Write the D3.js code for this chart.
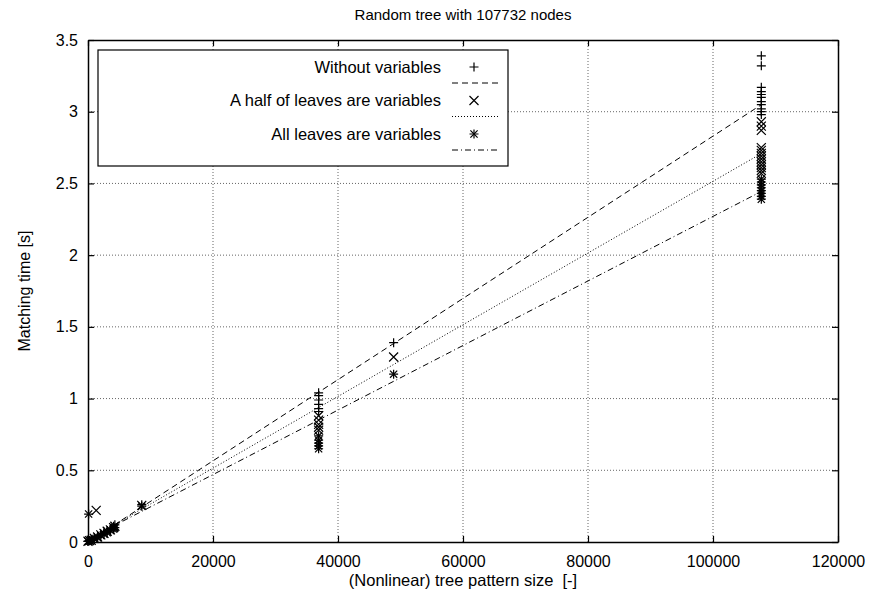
<!DOCTYPE html>
<html>
<head>
<meta charset="utf-8">
<script src="https://cdn.jsdelivr.net/npm/d3@7"></script>
<style>
  body { margin: 0; background: #fff; }
  svg text { font-family: "Liberation Sans", Arial, sans-serif; fill: #000; }
</style>
</head>
<body>
<div id="chart"></div>
<script>
// series data: [pattern size, matching time]
const seriesNames = ["Without variables", "A half of leaves are variables", "All leaves are variables"];

const withoutVars = [
    [0, 0.005], [128, 0.008], [256, 0.01], [512, 0.015], [768, 0.02], [1024, 0.03], [1536, 0.04],
    [2048, 0.055], [2560, 0.07], [3072, 0.08], [3584, 0.095], [4096, 0.11], [4300, 0.12],
    [8600, 0.26],
    [36900, 1.04], [36900, 1.02], [36900, 0.99], [36900, 0.96], [36900, 0.93], [36900, 0.91],
    [48900, 1.39],
    [107732, 3.39], [107732, 3.32], [107732, 3.17], [107732, 3.14], [107732, 3.12], [107732, 3.10],
    [107732, 3.07], [107732, 3.05], [107732, 3.02], [107732, 3.00], [107732, 2.98]
];

const halfVars = [
    [0, 0.005], [256, 0.01], [512, 0.012], [1024, 0.025], [1310, 0.22], [1536, 0.035], [2048, 0.05],
    [2560, 0.06], [3072, 0.075], [3584, 0.085], [4096, 0.1], [4300, 0.11],
    [8600, 0.255],
    [36900, 0.88], [36900, 0.85], [36900, 0.82], [36900, 0.80], [36900, 0.78],
    [48900, 1.29],
    [107732, 2.93], [107732, 2.90], [107732, 2.87], [107732, 2.75], [107732, 2.73], [107732, 2.71],
    [107732, 2.69], [107732, 2.67], [107732, 2.65], [107732, 2.63], [107732, 2.61], [107732, 2.59], [107732, 2.57]
];

const allVars = [
    [0, 0.004], [100, 0.195], [256, 0.008], [512, 0.012], [1024, 0.02], [1536, 0.03], [2048, 0.045],
    [2560, 0.055], [3072, 0.065], [3584, 0.08], [4096, 0.09], [4300, 0.1],
    [8600, 0.25],
    [36900, 0.74], [36900, 0.71], [36900, 0.69], [36900, 0.67], [36900, 0.65],
    [48900, 1.17],
    [107732, 2.53], [107732, 2.51], [107732, 2.49], [107732, 2.47], [107732, 2.45], [107732, 2.43],
    [107732, 2.41], [107732, 2.39]
];

// fitted lines y = a*x + b
const fitSlopes = [2.83e-5, 2.50e-5, 2.25e-5];
const fitIntercepts = [0.0, 0.015, 0.02];
const fitRange = [0, 107732];

const xTicks = [0, 20000, 40000, 60000, 80000, 100000, 120000];
const yTicks = [0, 0.5, 1, 1.5, 2, 2.5, 3, 3.5];

const width = 873, height = 599;
const margin = {top: 40, right: 35, bottom: 57, left: 88};

const svg = d3.select("#chart").append("svg")
    .attr("width", width)
    .attr("height", height);

const x = d3.scaleLinear().domain([0, 120000]).range([margin.left, width - margin.right]);
const y = d3.scaleLinear().domain([0, 3.5]).range([height - margin.bottom, margin.top]);

const tickFont = 16;
const labelFont = 16.5;

// grid
svg.append("g")
    .selectAll("line")
    .data(xTicks.slice(1, -1))
    .enter().append("line")
    .attr("x1", d => x(d)).attr("x2", d => x(d))
    .attr("y1", y(0)).attr("y2", y(3.5))
    .attr("stroke", "#666").attr("stroke-dasharray", "1,2");

svg.append("g")
    .selectAll("line")
    .data(yTicks.slice(1, -1))
    .enter().append("line")
    .attr("x1", x(0)).attr("x2", x(120000))
    .attr("y1", d => y(d)).attr("y2", d => y(d))
    .attr("stroke", "#666").attr("stroke-dasharray", "1,2");

// axes (ticks inward on all four sides)
const bottomAxis = svg.append("g")
    .attr("transform", `translate(0,${y(0)})`)
    .call(d3.axisBottom(x).tickValues(xTicks).tickFormat(d3.format("d")).tickSizeInner(-6).tickSizeOuter(0).tickPadding(14));
const topAxis = svg.append("g")
    .attr("transform", `translate(0,${y(3.5)})`)
    .call(d3.axisTop(x).tickValues(xTicks).tickFormat("").tickSizeInner(-6).tickSizeOuter(0));
const leftAxis = svg.append("g")
    .attr("transform", `translate(${x(0)},0)`)
    .call(d3.axisLeft(y).tickValues(yTicks).tickFormat(d => d).tickSizeInner(-6).tickSizeOuter(0).tickPadding(10));
const rightAxis = svg.append("g")
    .attr("transform", `translate(${x(120000)},0)`)
    .call(d3.axisRight(y).tickValues(yTicks).tickFormat("").tickSizeInner(-6).tickSizeOuter(0));

[bottomAxis, topAxis, leftAxis, rightAxis].forEach(g => {
    g.select(".domain").attr("stroke", "#000").attr("stroke-width", 1.5);
    g.selectAll(".tick line").attr("stroke", "#000").attr("stroke-width", 1.2);
    g.selectAll("text").style("font-size", tickFont + "px")
        .style("font-family", '"Liberation Sans", Arial, sans-serif').attr("fill", "#000");
});

// fitted lines
const dashes = ["6,4", "1,2", "6,3,1,3"];
const lineGen = d3.line().x(d => x(d[0])).y(d => y(d[1]));
svg.append("g")
    .selectAll("path")
    .data(fitSlopes)
    .enter().append("path")
    .attr("d", (a, i) => lineGen(fitRange.map(v => [v, a * v + fitIntercepts[i]])))
    .attr("fill", "none")
    .attr("stroke", "#000")
    .attr("stroke-width", 1)
    .attr("stroke-dasharray", (d, i) => dashes[i]);

// point symbols like gnuplot's +, x, *
const r = 4.5;
function symbol(g, type) {
    if (type === 0 || type === 2) {
        g.append("path").attr("d", `M${-r},0H${r}M0,${-r}V${r}`);
    }
    if (type === 1 || type === 2) {
        const s = type === 1 ? r : r * 0.8;
        g.append("path").attr("d", `M${-s},${-s}L${s},${s}M${-s},${s}L${s},${-s}`);
    }
    g.selectAll("path").attr("stroke", "#000").attr("stroke-width", 1.2).attr("fill", "none");
}

const allSeries = [withoutVars, halfVars, allVars];
allSeries.forEach((data, i) => {
    svg.append("g")
        .selectAll("g")
        .data(data)
        .enter().append("g")
        .attr("transform", d => `translate(${x(d[0])},${y(d[1])})`)
        .each(function() { symbol(d3.select(this), i); });
});

// legend
const legend = svg.append("g");
legend.append("rect")
    .attr("x", 98).attr("y", 50)
    .attr("width", 410).attr("height", 116)
    .attr("fill", "#fff").attr("stroke", "#000").attr("stroke-width", 1.2);

seriesNames.forEach((name, i) => {
    const cy = 67 + i * 33.5;
    legend.append("text")
        .attr("x", 441).attr("y", cy)
        .attr("dy", "0.35em")
        .attr("text-anchor", "end")
        .style("font-size", labelFont + "px")
        .text(name);
    const m = legend.append("g").attr("transform", `translate(474,${cy})`);
    symbol(m, i);
    legend.append("line")
        .attr("x1", 452).attr("x2", 499)
        .attr("y1", cy + 16).attr("y2", cy + 16)
        .attr("stroke", "#000")
        .attr("stroke-dasharray", dashes[i]);
});

// titles
svg.append("text")
    .attr("x", (x(0) + x(120000)) / 2).attr("y", 20)
    .attr("text-anchor", "middle")
    .style("font-size", "15px")
    .text("Random tree with 107732 nodes");

svg.append("text")
    .attr("x", (x(0) + x(120000)) / 2).attr("y", 586)
    .attr("text-anchor", "middle")
    .style("font-size", labelFont + "px")
    .style("white-space", "pre")
    .text("(Nonlinear) tree pattern size  [-]");

svg.append("text")
    .attr("transform", `translate(30,${(y(0) + y(3.5)) / 2}) rotate(-90)`)
    .attr("text-anchor", "middle")
    .style("font-size", tickFont + "px")
    .text("Matching time [s]");
</script>
</body>
</html>
